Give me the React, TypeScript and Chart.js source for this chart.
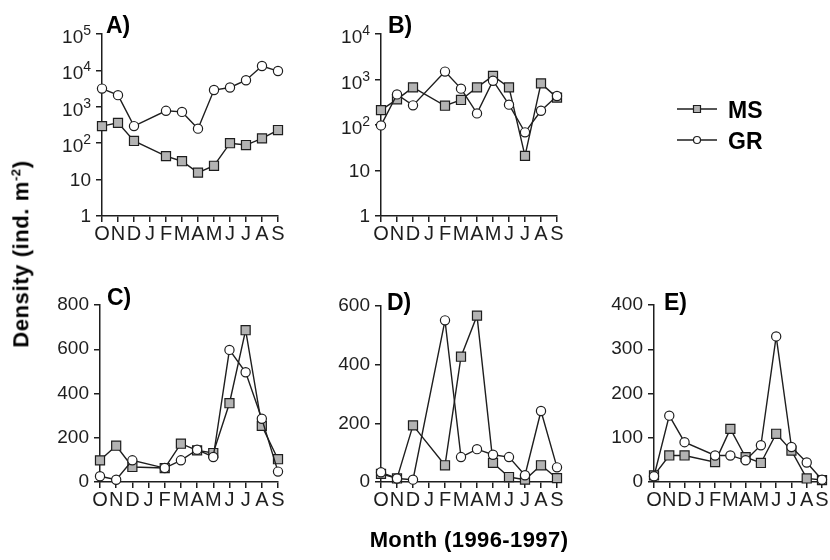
import React, { useEffect, useRef } from 'react';
import { Chart, registerables } from 'chart.js';

Chart.register(...registerables);

const FONT = '"Liberation Sans", Arial, Helvetica, sans-serif';

const months = ['O', 'N', 'D', 'J', 'F', 'M', 'A', 'M', 'J', 'J', 'A', 'S'];

// Panel A (log)
const aMS = [295, 363, 115, null, 44, 32, 15.5, 24, 100, 89, 136, 230];
const aGR = [3160, 2090, 295, null, 776, 724, 251, 2890, 3390, 5370, 13200, 9600];
const aTicks = [1, 10, 100, 1000, 10000, 100000];

// Panel B (log)
const bMS = [213, 366, 670, null, 265, 355, 670, 1200, 670, 21, 820, 400];
const bGR = [98, 470, 270, null, 1490, 630, 180, 940, 280, 69, 206, 435];
const bTicks = [1, 10, 100, 1000, 10000];

// Panel C
const cMS = [98, 164, 68, null, 63, 173, 143, 131, 356, 686, 254, 103];
const cGR = [26, 10, 98, null, 63, 98, 146, 113, 597, 496, 286, 47];
const cTicks = [0, 200, 400, 600, 800];

// Panel D
const dMS = [28, 12, 193, null, 57, 427, 567, 65, 17, 8, 57, 13];
const dGR = [33, 12, 8, null, 551, 85, 112, 93, 85, 23, 242, 50];
const dTicks = [0, 200, 400, 600];

// Panel E
const eMS = [15, 60, 60, null, 45, 120, 56, 43, 109, 71, 8, 4.5];
const eGR = [13, 150, 90, null, 60, 60, 49, 83, 329, 79, 44, 5];
const eTicks = [0, 100, 200, 300, 400];

const seriesNames = ['MS', 'GR'];

type Area = { l: number; t: number; r: number; b: number };
type PanelDef = {
  label: string;
  ms: (number | null)[];
  gr: (number | null)[];
  ticks: number[];
  log: boolean;
  area: Area;
  labelDx: number;
  labelDy: number;
  legend?: boolean;
};

const YW = 70;
const XH = 50;
const PT = 30;
const PR = 20;
const INK = '#1e1e1e';

const panels: PanelDef[] = [
  { label: 'A)', ms: aMS, gr: aGR, ticks: aTicks, log: true, area: { l: 102, t: 34, r: 278, b: 216 }, labelDx: 4, labelDy: -1 },
  { label: 'B)', ms: bMS, gr: bGR, ticks: bTicks, log: true, area: { l: 381, t: 34, r: 557, b: 216 }, labelDx: 7, labelDy: -1, legend: true },
  { label: 'C)', ms: cMS, gr: cGR, ticks: cTicks, log: false, area: { l: 100, t: 305, r: 278, b: 482 }, labelDx: 7, labelDy: 0 },
  { label: 'D)', ms: dMS, gr: dGR, ticks: dTicks, log: false, area: { l: 381, t: 306, r: 557, b: 482 }, labelDx: 6, labelDy: 4 },
  { label: 'E)', ms: eMS, gr: eGR, ticks: eTicks, log: false, area: { l: 654, t: 305, r: 822, b: 482 }, labelDx: 10, labelDy: 5 },
];

function drawSquare(ctx: CanvasRenderingContext2D, x: number, y: number, s: number) {
  ctx.beginPath();
  ctx.rect(x - s / 2, y - s / 2, s, s);
  ctx.fillStyle = '#b3b3b3';
  ctx.fill();
  ctx.lineWidth = 1.2;
  ctx.strokeStyle = INK;
  ctx.stroke();
}

function drawCircle(ctx: CanvasRenderingContext2D, x: number, y: number, r: number) {
  ctx.beginPath();
  ctx.arc(x, y, r, 0, Math.PI * 2);
  ctx.fillStyle = '#ffffff';
  ctx.fill();
  ctx.lineWidth = 1.2;
  ctx.strokeStyle = INK;
  ctx.stroke();
}

function PanelChart({ def }: { def: PanelDef }) {
  const ref = useRef<HTMLCanvasElement | null>(null);
  const pr = def.legend ? 830 - def.area.r : PR;
  const width = def.area.r - def.area.l + YW + pr;
  const height = def.area.b - def.area.t + PT + XH;

  useEffect(() => {
    if (!ref.current) return;
    const overlay = {
      id: 'overlay-' + def.label,
      afterDraw(chart: any) {
        const ctx: CanvasRenderingContext2D = chart.ctx;
        const ca = chart.chartArea;
        const ys = chart.scales.y;
        ctx.save();
        ctx.fillStyle = INK;
        if (def.log) {
          ctx.textAlign = 'right';
          for (const v of def.ticks) {
            const y = ys.getPixelForValue(v);
            const exp = Math.round(Math.log10(v));
            const xr = ca.left - 11;
            if (exp <= 1) {
              ctx.font = `19px ${FONT}`;
              ctx.textBaseline = 'middle';
              ctx.fillText(String(v), xr, y + 1);
            } else {
              ctx.textBaseline = 'alphabetic';
              ctx.font = `14px ${FONT}`;
              const sw = ctx.measureText(String(exp)).width;
              ctx.fillText(String(exp), xr, y + 1);
              ctx.font = `19px ${FONT}`;
              ctx.fillText('10', xr - sw, y + 9);
            }
          }
        }
        ctx.textAlign = 'left';
        ctx.textBaseline = 'alphabetic';
        ctx.font = `bold 23px ${FONT}`;
        ctx.fillStyle = '#000';
        ctx.fillText(def.label, ca.left + def.labelDx, ca.top + def.labelDy);
        if (def.legend) {
          const x0 = ca.right + 120;
          const x1 = ca.right + 160;
          const xm = ca.right + 140;
          const rows = [ca.top + 75, ca.top + 106];
          rows.forEach((yy, i) => {
            ctx.beginPath();
            ctx.moveTo(x0, yy);
            ctx.lineTo(x1, yy);
            ctx.lineWidth = 1.5;
            ctx.strokeStyle = INK;
            ctx.stroke();
            if (i === 0) drawSquare(ctx, xm, yy, 7);
            else drawCircle(ctx, xm, yy, 3.5);
            ctx.fillStyle = '#000';
            ctx.font = `bold 23px ${FONT}`;
            ctx.textAlign = 'left';
            ctx.textBaseline = 'alphabetic';
            ctx.fillText(seriesNames[i], ca.right + 171, yy + 9);
          });
        }
        ctx.restore();
      },
    };

    const gridCfg = {
      display: true,
      drawOnChartArea: false,
      drawTicks: true,
      tickLength: 6,
      color: INK,
      lineWidth: 1.5,
      offset: false,
    };
    const borderCfg = { display: true, color: INK, width: 1.5 };

    const yScale: any = def.log
      ? {
          type: 'logarithmic',
          min: def.ticks[0],
          max: def.ticks[def.ticks.length - 1],
          afterBuildTicks: (s: any) => {
            s.ticks = def.ticks.map((v) => ({ value: v }));
          },
          ticks: { display: false },
        }
      : {
          type: 'linear',
          min: def.ticks[0],
          max: def.ticks[def.ticks.length - 1],
          afterBuildTicks: (s: any) => {
            s.ticks = def.ticks.map((v) => ({ value: v }));
          },
          ticks: {
            display: true,
            padding: 5,
            color: INK,
            font: { family: FONT, size: 19 },
            callback: (v: any) => String(v),
          },
        };
    yScale.grid = gridCfg;
    yScale.border = borderCfg;
    yScale.afterFit = (s: any) => {
      s.width = YW;
    };

    const chart = new Chart(ref.current, {
      type: 'line',
      data: {
        labels: months,
        datasets: [
          {
            label: 'GR',
            data: def.gr,
            borderColor: INK,
            borderWidth: 1.4,
            pointStyle: 'circle',
            pointRadius: 4.6,
            pointBackgroundColor: '#ffffff',
            pointBorderColor: INK,
            pointBorderWidth: 1.2,
            tension: 0,
            spanGaps: true,
            clip: false,
          } as any,
          {
            label: 'MS',
            data: def.ms,
            borderColor: INK,
            borderWidth: 1.4,
            pointStyle: 'rect',
            pointRadius: 6.4,
            pointBackgroundColor: '#b3b3b3',
            pointBorderColor: INK,
            pointBorderWidth: 1.2,
            tension: 0,
            spanGaps: true,
            clip: false,
          } as any,
        ],
      },
      options: {
        responsive: false,
        animation: false,
        layout: { padding: { left: 0, top: PT, right: pr, bottom: 0 } },
        plugins: { legend: { display: false }, tooltip: { enabled: false }, title: { display: false } },
        scales: {
          x: {
            type: 'category',
            offset: false,
            grid: gridCfg,
            border: borderCfg,
            ticks: {
              autoSkip: false,
              maxRotation: 0,
              minRotation: 0,
              padding: 0,
              color: INK,
              font: { family: FONT, size: 20 },
            },
            afterFit: (s: any) => {
              s.height = XH;
            },
          } as any,
          y: yScale,
        },
      },
      plugins: [overlay],
    });
    return () => chart.destroy();
  }, [def]);

  return (
    <canvas
      ref={ref}
      width={width}
      height={height}
      style={{
        position: 'absolute',
        left: def.area.l - YW,
        top: def.area.t - PT,
        width,
        height,
      }}
    />
  );
}

export default function App() {
  return (
    <div
      style={{
        position: 'absolute',
        left: 0,
        top: 0,
        width: 830,
        height: 560,
        overflow: 'hidden',
        background: '#ffffff',
        fontFamily: FONT,
      }}
    >
      {panels.map((p) => (
        <PanelChart key={p.label} def={p} />
      ))}
      <div
        style={{
          position: 'absolute',
          left: 21,
          top: 254,
          transform: 'translate(-50%, -50%) rotate(-90deg)',
          whiteSpace: 'nowrap',
          fontWeight: 'bold',
          fontSize: 22,
          letterSpacing: 0.6,
          lineHeight: 1,
          color: '#000',
        }}
      >
        Density (ind. m<span style={{ fontSize: 13, verticalAlign: 'super' }}>-2</span>)
      </div>
      <div
        style={{
          position: 'absolute',
          left: 469,
          top: 540,
          transform: 'translate(-50%, -50%)',
          whiteSpace: 'nowrap',
          fontWeight: 'bold',
          fontSize: 22,
          letterSpacing: 0.4,
          lineHeight: 1,
          color: '#000',
        }}
      >
        Month (1996-1997)
      </div>
    </div>
  );
}
